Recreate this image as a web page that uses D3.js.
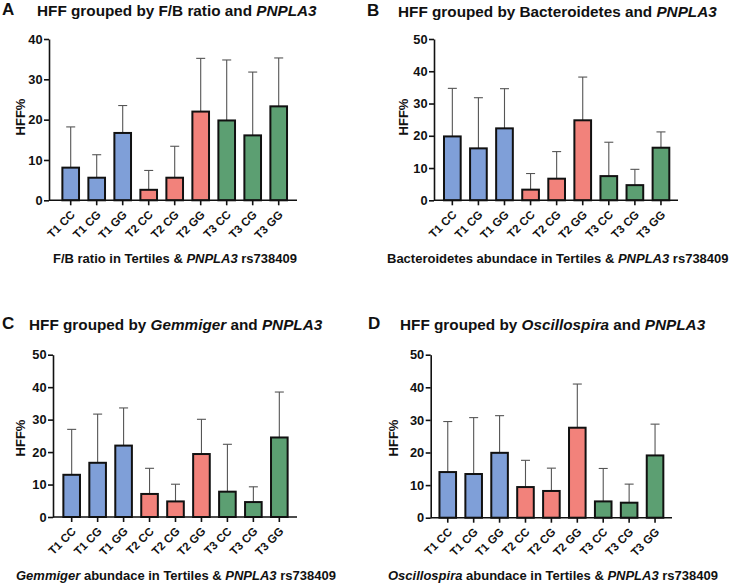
<!DOCTYPE html>
<html>
<head>
<meta charset="utf-8">
<script src="https://cdn.jsdelivr.net/npm/d3@7"></script>
<style>
  body { margin: 0; background: #fff; }
  text { font-family: "Liberation Sans", Arial, sans-serif; font-weight: bold; fill: #111; }
</style>
</head>
<body>
<div id="chart-area"></div>
<script>
// groups on the x axis (tertile + genotype)
var groups = ["T1 CC", "T1 CG", "T1 GG", "T2 CC", "T2 CG", "T2 GG", "T3 CC", "T3 CG", "T3 GG"];
var tertile = ["T1", "T1", "T1", "T2", "T2", "T2", "T3", "T3", "T3"];

// mean HFF% and mean+SD (top of error bar) for each panel
var meanA = [8.1, 5.6, 16.7, 2.6, 5.6, 22.0, 19.8, 16.1, 23.3];
var upperA = [18.2, 11.3, 23.5, 7.4, 13.4, 35.2, 34.8, 31.8, 35.3];
var meanB = [19.8, 16.1, 22.3, 3.3, 6.7, 24.8, 7.5, 4.7, 16.3];
var upperB = [34.7, 31.8, 34.6, 8.3, 15.1, 38.2, 18.0, 9.6, 21.2];
var meanC = [13.0, 16.7, 22.0, 7.1, 4.8, 19.4, 7.8, 4.6, 24.5];
var upperC = [27.0, 31.7, 33.6, 15.0, 10.1, 30.1, 22.4, 9.3, 38.5];
var meanD = [14.0, 13.4, 19.9, 9.4, 8.2, 27.6, 5.0, 4.6, 19.1];
var upperD = [29.5, 30.7, 31.3, 17.6, 15.2, 41.0, 15.1, 10.3, 28.7];

var ticksA = [0, 10, 20, 30, 40];
var ticksBCD = [0, 10, 20, 30, 40, 50];

var colors = { T1: "#7f9fd8", T2: "#f2827b", T3: "#5c9f72" };

var svg = d3.select("#chart-area")
    .append("svg")
    .attr("width", 730)
    .attr("height", 584);

var panels = [
    { letter: "A", mean: meanA, upper: upperA, ticks: ticksA,
      title: [["HFF grouped by F/B ratio and ", false], ["PNPLA3", true]],
      xtitle: [["F/B ratio in Tertiles & ", false], ["PNPLA3", true], [" rs738409", false]],
      ax: 49, y0: 200.3, yT: 39, xr: [57.7, 291.7], xEnd: 297,
      lx: 2, ly: 15, tx: 37, ty: 16, yl: [20, 117], xtx: 53, xty: 263 },
    { letter: "B", mean: meanB, upper: upperB, ticks: ticksBCD,
      title: [["HFF grouped by Bacteroidetes and ", false], ["PNPLA3", true]],
      xtitle: [["Bacteroidetes abundace in Tertiles & ", false], ["PNPLA3", true], [" rs738409", false]],
      ax: 434, y0: 200.3, yT: 39, xr: [439.3, 674], xEnd: 678,
      lx: 367, ly: 16, tx: 398, ty: 17, yl: [403, 117], xtx: 387, xty: 263 },
    { letter: "C", mean: meanC, upper: upperC, ticks: ticksBCD,
      title: [["HFF grouped by ", false], ["Gemmiger", true], [" and ", false], ["PNPLA3", true]],
      xtitle: [["Gemmiger", true], [" abundace in Tertiles & ", false], ["PNPLA3", true], [" rs738409", false]],
      ax: 53, y0: 517, yT: 354.7, xr: [58.7, 292.3], xEnd: 297,
      lx: 2, ly: 329, tx: 29, ty: 330, yl: [20, 438], xtx: 16, xty: 580 },
    { letter: "D", mean: meanD, upper: upperD, ticks: ticksBCD,
      title: [["HFF grouped by ", false], ["Oscillospira", true], [" and ", false], ["PNPLA3", true]],
      xtitle: [["Oscillospira", true], [" abundace in Tertiles & ", false], ["PNPLA3", true], [" rs738409", false]],
      ax: 430.7, y0: 517.7, yT: 354.7, xr: [434.8, 668], xEnd: 672,
      lx: 368, ly: 329, tx: 400, ty: 330, yl: [393, 438], xtx: 388, xty: 580 }
];

panels.forEach(drawPanel);

function addRich(sel, parts) {
    parts.forEach(function(p) {
        sel.append("tspan")
            .attr("font-style", p[1] ? "italic" : "normal")
            .text(p[0]);
    });
}

function drawPanel(p) {
    var g = svg.append("g");
    var ymax = p.ticks[p.ticks.length - 1];

    var x = d3.scaleBand()
        .domain(groups)
        .range(p.xr)
        .paddingInner(0.36)
        .paddingOuter(0.18);

    var y = d3.scaleLinear()
        .domain([0, ymax])
        .range([p.y0, p.yT]);

    // error bars (upper only)
    var eb = g.selectAll(".err")
        .data(groups)
        .enter().append("g")
        .attr("class", "err");
    eb.append("line")
        .attr("x1", function(d) { return x(d) + x.bandwidth() / 2; })
        .attr("x2", function(d) { return x(d) + x.bandwidth() / 2; })
        .attr("y1", function(d, i) { return y(p.mean[i]); })
        .attr("y2", function(d, i) { return y(p.upper[i]); })
        .attr("stroke", "#555")
        .attr("stroke-width", 1.1);
    eb.append("line")
        .attr("x1", function(d) { return x(d) + x.bandwidth() / 2 - 4.5; })
        .attr("x2", function(d) { return x(d) + x.bandwidth() / 2 + 4.5; })
        .attr("y1", function(d, i) { return y(p.upper[i]); })
        .attr("y2", function(d, i) { return y(p.upper[i]); })
        .attr("stroke", "#555")
        .attr("stroke-width", 1.1);

    // bars
    g.selectAll(".bar")
        .data(groups)
        .enter().append("rect")
        .attr("class", "bar")
        .attr("x", function(d) { return x(d); })
        .attr("y", function(d, i) { return y(p.mean[i]); })
        .attr("width", x.bandwidth())
        .attr("height", function(d, i) { return p.y0 - y(p.mean[i]); })
        .attr("fill", function(d, i) { return colors[tertile[i]]; })
        .attr("stroke", "#111")
        .attr("stroke-width", 2);

    // y axis
    var yAxis = g.append("g")
        .attr("transform", "translate(" + p.ax + ",0)")
        .call(d3.axisLeft(y).tickValues(p.ticks).tickSize(5).tickPadding(1.5).tickSizeOuter(0));
    yAxis.select(".domain").attr("stroke", "#111").attr("stroke-width", 1.6);
    yAxis.selectAll(".tick line").attr("stroke", "#111").attr("stroke-width", 1.6);
    yAxis.selectAll(".tick text")
        .style("font-size", "12.8px")
        .style("font-family", "Liberation Sans, Arial, sans-serif")
        .style("font-weight", "bold")
        .attr("fill", "#111");

    // x axis
    var xAxis = g.append("g")
        .attr("transform", "translate(0," + p.y0 + ")")
        .call(d3.axisBottom(x).tickSize(5).tickSizeOuter(0));
    xAxis.select(".domain").remove();
    g.append("line")
        .attr("x1", p.ax).attr("x2", p.xEnd)
        .attr("y1", p.y0).attr("y2", p.y0)
        .attr("stroke", "#111").attr("stroke-width", 1.6);
    xAxis.selectAll(".tick line").attr("stroke", "#111").attr("stroke-width", 1.6);
    xAxis.selectAll(".tick text")
        .style("font-size", "11.5px")
        .style("font-family", "Liberation Sans, Arial, sans-serif")
        .style("font-weight", "bold")
        .attr("fill", "#111")
        .attr("text-anchor", "end")
        .attr("dy", null)
        .attr("y", 0)
        .attr("transform", "translate(5,15) rotate(-45)");

    // panel letter and title
    g.append("text")
        .attr("x", p.lx).attr("y", p.ly)
        .style("font-size", "17px")
        .text(p.letter);
    var t = g.append("text")
        .attr("x", p.tx).attr("y", p.ty)
        .style("font-size", "15.3px");
    addRich(t, p.title);

    // axis titles
    g.append("text")
        .attr("transform", "translate(" + (p.yl[0] + 4.5) + "," + p.yl[1] + ") rotate(-90)")
        .attr("text-anchor", "middle")
        .style("font-size", "13px")
        .text("HFF%");
    var xt = g.append("text")
        .attr("x", p.xtx).attr("y", p.xty)
        .style("font-size", "13px");
    addRich(xt, p.xtitle);
}
</script>
</body>
</html>
